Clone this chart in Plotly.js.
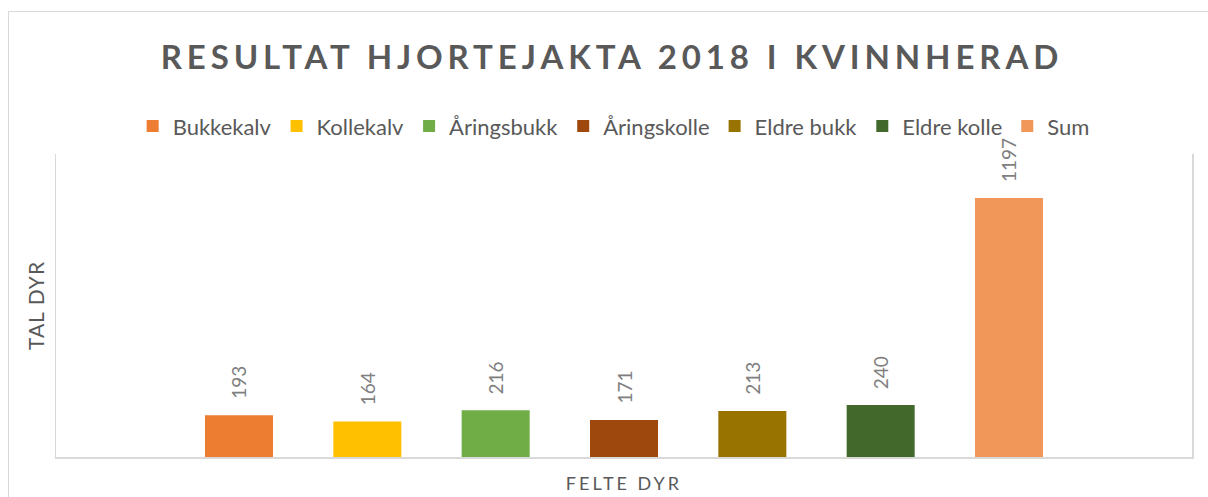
<!DOCTYPE html>
<html><head><meta charset="utf-8">
<script src="https://cdn.plot.ly/plotly-3.0.1.min.js"></script>
<style>
html,body{margin:0;padding:0;background:#fff;overflow:hidden;width:1208px;height:497px;}
#chart{position:absolute;left:0;top:0;width:1208px;height:497px;}
#frame{position:absolute;left:8px;top:11px;width:1300px;height:600px;border-left:1px solid #d9d9d9;border-top:1px solid #d9d9d9;pointer-events:none;z-index:5;}
.gtitle{letter-spacing:4.9px;}
.xtitle{letter-spacing:3px;}
.ytitle{letter-spacing:1px;}
</style></head><body>
<div id="chart"></div>
<div id="frame"></div>
<script>
const chartTitle = 'RESULTAT HJORTEJAKTA 2018 I KVINNHERAD';
const xTitle = 'FELTE DYR';
const yTitle = 'TAL DYR';
const seriesNames = ['Bukkekalv', 'Kollekalv', 'Åringsbukk', 'Åringskolle', 'Eldre bukk', 'Eldre kolle', 'Sum'];
const seriesValues = [193, 164, 216, 171, 213, 240, 1197];
const seriesColors = ['#ED7D31', '#FFC000', '#70AD47', '#9E480E', '#997300', '#43682B', '#F1975A'];

const FONT = 'Lato, "Open Sans", sans-serif';

const traces = seriesNames.map((n, i) => ({
  type: 'bar',
  name: n,
  x: [n],
  y: [seriesValues[i]],
  marker: {color: seriesColors[i]},
  hoverinfo: 'skip'
}));

const labels = seriesNames.map((n, i) => ({
  x: n, y: seriesValues[i], xref: 'x', yref: 'y',
  text: String(seriesValues[i]),
  textangle: -90, showarrow: false,
  xanchor: 'center', yanchor: 'bottom', yshift: 14,
  font: {family: FONT, size: 19, color: '#7f7f7f'}
}));

const layout = {
  width: 1208, height: 497,
  paper_bgcolor: '#ffffff', plot_bgcolor: '#ffffff',
  margin: {l: 56, r: 16, t: 154, b: 40, pad: 0},
  font: {family: FONT, color: '#595959'},
  title: {
    text: chartTitle,
    font: {family: FONT, size: 33, weight: 700, color: '#595959'},
    xref: 'container', x: 0.5066, xanchor: 'center',
    yref: 'container', y: 0.885, yanchor: 'middle'
  },
  showlegend: true,
  legend: {
    orientation: 'h',
    xref: 'container', x: 0.508, xanchor: 'center',
    yref: 'container', y: 0.746, yanchor: 'middle',
    font: {family: FONT, size: 22, color: '#595959'},
    traceorder: 'normal',
    itemclick: false, itemdoubleclick: false
  },
  barmode: 'overlay',
  bargap: 0.47,
  xaxis: {
    type: 'category',
    categoryorder: 'array', categoryarray: seriesNames,
    range: [-1.426, 7.426],
    showticklabels: false, ticks: '', showgrid: false, zeroline: false,
    showline: true, linecolor: '#d9d9d9', linewidth: 1.5,
    fixedrange: true,
    title: {text: xTitle, font: {family: FONT, size: 18, color: '#595959'}, standoff: 20}
  },
  yaxis: {
    range: [0, 1400],
    showticklabels: false, ticks: '', showgrid: false, zeroline: false,
    showline: true, mirror: true, linecolor: '#d9d9d9', linewidth: 1.5,
    fixedrange: true,
    title: {text: yTitle, font: {family: FONT, size: 21, color: '#595959'}, standoff: 4}
  },
  annotations: labels
};

Plotly.newPlot('chart', traces, layout, {staticPlot: true, displayModeBar: false});
</script>
</body></html>
